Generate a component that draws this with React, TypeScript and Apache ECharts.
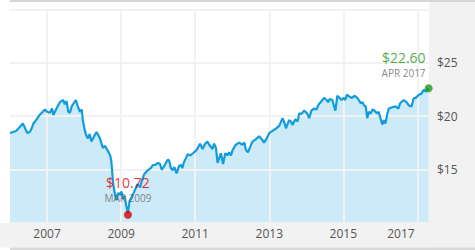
import React, { useEffect, useRef } from "react";
import * as echarts from "echarts";

const dates: string[] = [
  "2006-01-01","2006-02-01","2006-03-01","2006-04-01","2006-05-08","2006-06-01","2006-06-20","2006-07-15","2006-08-01","2006-08-20","2006-09-15","2006-10-20","2006-11-20","2006-12-12",
  "2007-01-01","2007-01-30","2007-02-20","2007-03-05","2007-03-20","2007-04-15","2007-05-08","2007-06-10","2007-06-25","2007-07-13","2007-07-30","2007-08-15","2007-09-02","2007-10-12","2007-11-01","2007-11-21","2007-12-10","2007-12-20",
  "2008-01-10","2008-01-22","2008-02-09","2008-02-25","2008-03-14","2008-04-15","2008-05-04","2008-06-06","2008-07-05","2008-07-25","2008-08-25","2008-09-15","2008-09-27","2008-10-12","2008-10-25","2008-11-14","2008-12-05","2008-12-17",
  "2009-01-05","2009-01-20","2009-02-05","2009-02-20","2009-03-09","2009-03-25","2009-04-15","2009-05-10","2009-06-10","2009-07-08","2009-07-20","2009-08-15","2009-09-20","2009-10-20","2009-11-10","2009-12-01",
  "2010-01-01","2010-01-20","2010-02-05","2010-03-01","2010-04-05","2010-04-20","2010-05-07","2010-05-25","2010-06-10","2010-07-02","2010-07-25","2010-08-15","2010-08-27","2010-09-10","2010-10-20","2010-11-15","2010-12-10",
  "2011-01-15","2011-02-18","2011-03-15","2011-04-10","2011-05-01","2011-05-20","2011-06-20","2011-07-07","2011-07-25","2011-08-10","2011-08-25","2011-09-12","2011-10-03","2011-10-25","2011-11-17","2011-12-01","2011-12-20",
  "2012-01-05","2012-02-05","2012-03-10","2012-04-10","2012-05-01","2012-05-15","2012-06-05","2012-07-01","2012-07-20","2012-08-20","2012-09-24","2012-10-20","2012-11-10","2012-12-01",
  "2013-01-01","2013-02-01","2013-03-07","2013-04-10","2013-05-12","2013-06-01","2013-06-14","2013-07-16","2013-08-01","2013-08-18","2013-09-15","2013-10-08","2013-10-23","2013-11-15","2013-12-10",
  "2014-01-05","2014-01-30","2014-02-20","2014-03-17","2014-04-10","2014-05-04","2014-06-01","2014-06-25","2014-07-20","2014-08-05","2014-08-20","2014-09-15","2014-10-02","2014-10-15","2014-11-03","2014-11-25","2014-12-15",
  "2015-01-05","2015-01-20","2015-02-06","2015-03-05","2015-03-28","2015-04-20","2015-05-19","2015-06-10","2015-06-21","2015-07-10","2015-07-24","2015-08-10","2015-08-25","2015-09-10","2015-09-27","2015-10-15","2015-10-30","2015-11-28","2015-12-15",
  "2016-01-20","2016-02-05","2016-02-20","2016-03-10","2016-03-25","2016-04-20","2016-05-30","2016-06-27","2016-07-15","2016-08-18","2016-09-15","2016-10-08","2016-11-04","2016-11-24","2016-12-15",
  "2017-01-15","2017-02-10","2017-03-03","2017-03-25","2017-04-21",
];

const prices: number[] = [
  18.4,18.5,18.6,18.9,19.3,18.8,18.4,18.5,18.8,19.3,19.6,20.1,20.4,20.6,
  20.4,20.3,20.7,20.1,20.4,20.9,21.3,21.5,21.1,21.4,20.4,20.3,20.9,21.5,20.9,20.4,20.6,19.6,
  18.6,18.2,17.9,18.3,17.6,18.2,18.5,17.9,17.0,17.2,16.7,16.3,15.7,13.9,13.0,12.1,12.8,12.6,
  12.9,12.2,12.5,11.6,10.9,12.0,12.4,12.9,13.6,13.3,13.8,14.5,14.9,15.1,15.4,15.4,
  15.6,15.5,14.95,15.3,15.9,15.8,15.1,14.9,15.2,14.6,15.3,15.4,15.1,15.6,16.4,16.3,16.5,
  16.8,17.4,16.9,17.4,17.6,17.3,16.9,17.4,17.0,15.6,16.0,16.5,15.5,16.5,16.3,16.6,16.3,
  16.8,17.3,17.5,17.3,17.5,16.8,16.6,17.2,17.6,17.8,18.1,17.8,17.5,17.8,
  18.4,18.6,18.8,19.1,19.8,19.3,18.85,19.6,19.5,19.15,19.7,19.5,20.25,20.2,20.5,
  20.3,19.8,20.5,20.7,20.6,21.1,21.4,21.7,21.5,21.3,21.6,21.5,20.9,20.5,21.9,21.7,21.5,
  21.7,21.5,22.0,21.8,21.7,21.9,21.7,21.4,21.2,21.3,21.0,20.9,19.8,20.4,20.2,20.6,20.55,20.25,20.4,
  19.2,19.6,19.3,20.2,20.7,20.8,20.9,20.7,21.2,21.5,21.3,21.0,20.9,21.65,21.7,
  22.0,22.1,22.45,22.3,22.6,
];

const yearTicks: string[] = ["2007-01-01", "2009-01-01", "2011-01-01", "2013-01-01", "2015-01-01", "2017-01-01"];
const priceTicks: number[] = [15, 20, 25];
const axisStart = "2006-01-01";
const axisEnd = "2017-04-25";

const lowPoint = { date: "2009-03-09", value: 10.72, price: "$10.72", month: "MAR 2009" };
const lastPoint = { date: "2017-04-21", value: 22.6, price: "$22.60", month: "APR 2017" };

const ts = (s: string) => {
  const [y, m, d] = s.split("-").map(Number);
  return new Date(y, m - 1, d).getTime();
};

const FONT = "'Open Sans', 'Noto Sans', sans-serif";
const RED = "#d80000";
const GREEN = "#199a12";

export default function App() {
  const ref = useRef<HTMLDivElement>(null);
  useEffect(() => {
    if (!ref.current) return;
    const chart = echarts.init(ref.current, undefined, { renderer: "svg" });
    const series = dates.map((d, i) => [ts(d), prices[i]]);
    const yearTs = yearTicks.map(ts);
    const lastYear = new Date(yearTs[yearTs.length - 1]).getFullYear();
    chart.setOption({
      animation: false,
      backgroundColor: "#ffffff",
      graphic: [
        { type: "rect", z: 0, shape: { x: 429, y: 0, width: 46, height: 250 }, style: { fill: "#f2f2f2" } },
        { type: "rect", z: 0, shape: { x: 0, y: 223, width: 475, height: 24.5 }, style: { fill: "#f2f2f2" } },
        { type: "rect", z: 0, shape: { x: 10, y: 0, width: 465, height: 2 }, style: { fill: "#d6d6d6" } },
        { type: "rect", z: 0, shape: { x: 10, y: 247.5, width: 465, height: 2.5 }, style: { fill: "#d9d9d9" } },
      ],
      grid: { left: 10, right: 46, top: 9.5, bottom: 27.5 },
      xAxis: {
        type: "value",
        min: ts(axisStart),
        max: ts(axisEnd),
        z: 2,
        axisLine: { show: false },
        axisTick: { show: false, customValues: yearTs },
        axisLabel: {
          customValues: yearTs,
          color: "#555555",
          fontSize: 12,
          fontFamily: FONT,
          margin: 5,
          formatter: (v: number) => {
            const y = new Date(v).getFullYear();
            return y === lastYear ? `{s|${y}}` : `${y}`;
          },
          rich: { s: { color: "#555555", fontSize: 12, fontFamily: FONT, padding: [0, 33, 0, 0] } },
        },
        splitLine: { show: true, lineStyle: { color: "#f2f2f2", width: 2 } },
      },
      yAxis: {
        type: "value",
        position: "right",
        min: 10,
        max: 30,
        interval: 5,
        z: 2,
        axisLine: { show: false },
        axisTick: { show: false },
        axisLabel: {
          color: "#555555",
          fontSize: 12,
          fontFamily: FONT,
          margin: 8,
          align: "left",
          formatter: (v: number) => (priceTicks.includes(v) ? "$" + v : ""),
        },
        splitLine: { show: true, lineStyle: { color: "#f2f2f2", width: 2 } },
      },
      series: [
        {
          type: "line",
          data: series,
          z: 1,
          showSymbol: false,
          silent: true,
          lineStyle: { width: 0, opacity: 0 },
          areaStyle: { color: "#cdeaf8", opacity: 1, origin: "start" },
        },
        {
          type: "line",
          data: series,
          z: 3,
          showSymbol: false,
          lineStyle: { color: "#129cdd", width: 2.2 },
        },
        {
          type: "scatter",
          z: 4,
          data: [[ts(lowPoint.date), lowPoint.value]],
          symbolSize: 8,
          itemStyle: { color: RED },
          label: {
            show: true,
            position: "top",
            distance: 6,
            align: "center",
            formatter: `{v|${lowPoint.price}}\n{d|${lowPoint.month}}`,
            rich: {
              v: { fontSize: 14, color: RED, lineHeight: 18, fontFamily: FONT },
              d: { fontSize: 10, color: "#666666", lineHeight: 13, fontFamily: FONT },
            },
          },
        },
        {
          type: "scatter",
          z: 4,
          data: [[ts(lastPoint.date), lastPoint.value]],
          symbolSize: 8,
          itemStyle: { color: GREEN },
          label: {
            show: true,
            position: "top",
            distance: 4.5,
            align: "right",
            offset: [-3, 0],
            formatter: `{v|${lastPoint.price}}\n{d|${lastPoint.month}}`,
            rich: {
              v: { fontSize: 14, color: GREEN, lineHeight: 18, fontFamily: FONT, align: "right" },
              d: { fontSize: 10, color: "#666666", lineHeight: 13, fontFamily: FONT, align: "right" },
            },
          },
        },
      ],
    });
    return () => chart.dispose();
  }, []);
  return <div ref={ref} style={{ position: "fixed", left: 0, top: 0, width: 475, height: 250 }} />;
}
